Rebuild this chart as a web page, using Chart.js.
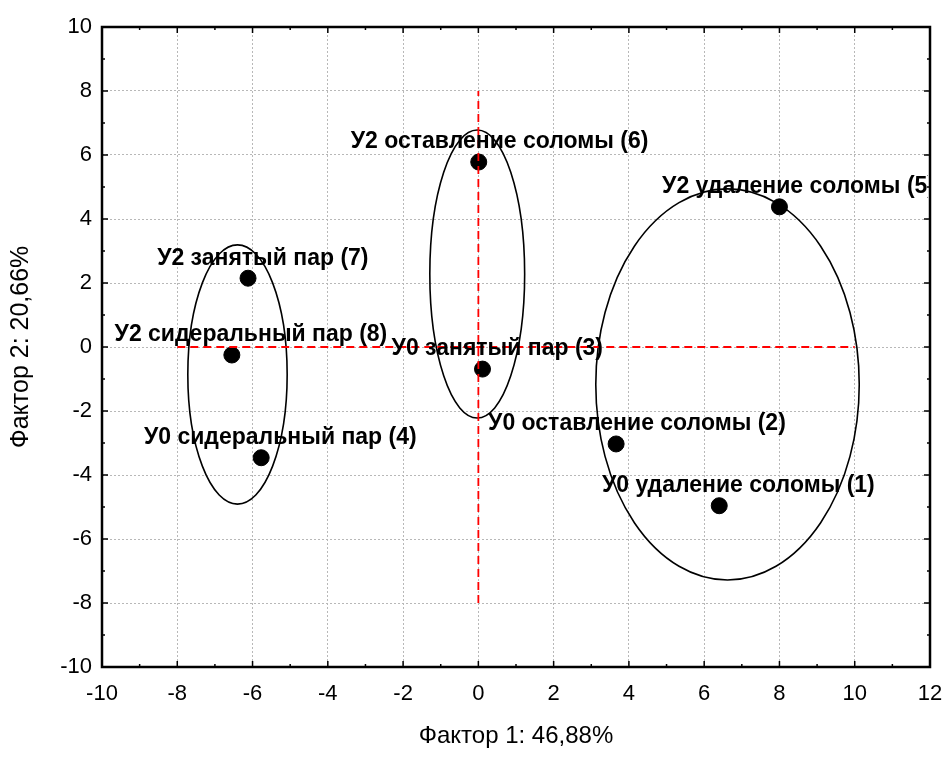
<!DOCTYPE html>
<html>
<head>
<meta charset="utf-8">
<script src="https://cdn.jsdelivr.net/npm/chart.js@4/dist/chart.umd.min.js"></script>
<style>
  html, body { margin: 0; padding: 0; background: #fff; }
  #wrap { width: 943px; height: 758px; }
</style>
</head>
<body>
<div id="wrap"><canvas id="factors"></canvas></div>
<script>
var pointNames = ['У0 удаление соломы (1)', 'У0 оставление соломы (2)', 'У0 занятый пар (3)', 'У0 сидеральный пар (4)',
    'У2 удаление соломы (5)', 'У2 оставление соломы (6)', 'У2 занятый пар (7)', 'У2 сидеральный пар (8)'];
var factor1 = [6.40, 3.66, 0.11, -5.77, 8.00, 0.01, -6.12, -6.55];
var factor2 = [-4.96, -3.03, -0.69, -3.46, 4.38, 5.78, 2.15, -0.25];

// groups: center x, center y, half-width, half-height (in factor units)
var groupCx = [-6.40, -0.03, 6.62];
var groupCy = [-0.86, 2.28, -1.17];
var groupRx = [1.32, 1.26, 3.50];
var groupRy = [4.05, 4.50, 6.11];

// red cross lines
var crossX = [-8, 10];
var crossY = [-8, 8];

var xTitle = 'Фактор 1: 46,88%';
var yTitle = 'Фактор 2: 20,66%';

var pts = factor1.map(function (v, i) { return { x: v, y: factor2[i] }; });

var frameAndExtras = {
    id: 'frameAndExtras',
    beforeDatasetsDraw: function (chart) {
        var c = chart.ctx, xs = chart.scales.x, ys = chart.scales.y;
        c.save();
        c.strokeStyle = '#000';
        c.lineWidth = 1.6;
        for (var i = 0; i < groupCx.length; i++) {
            var px = xs.getPixelForValue(groupCx[i]);
            var py = ys.getPixelForValue(groupCy[i]);
            var rx = Math.abs(xs.getPixelForValue(groupCx[i] + groupRx[i]) - px);
            var ry = Math.abs(ys.getPixelForValue(groupCy[i] + groupRy[i]) - py);
            c.beginPath();
            c.ellipse(px, py, rx, ry, 0, 0, Math.PI * 2);
            c.stroke();
        }
        c.restore();
    },
    afterDraw: function (chart) {
        var c = chart.ctx, a = chart.chartArea, xs = chart.scales.x, ys = chart.scales.y;
        c.save();
        // labels, cut at the right frame like the original
        c.beginPath();
        c.rect(0, 0, a.right - 2, chart.height);
        c.clip();
        c.font = 'bold 23px "Liberation Sans", Arial, sans-serif';
        c.fillStyle = '#000';
        c.textAlign = 'center';
        c.textBaseline = 'middle';
        for (var i = 0; i < pts.length; i++) {
            var w = c.measureText(pointNames[i]).width;
            c.fillText(pointNames[i], xs.getPixelForValue(pts[i].x) + w * 0.07, ys.getPixelForValue(pts[i].y) - 20);
        }
        c.restore();
        c.save();
        // frame
        c.strokeStyle = '#000';
        c.lineWidth = 2.5;
        c.strokeRect(a.left, a.top, a.right - a.left, a.bottom - a.top);
        // inward ticks
        c.lineWidth = 1.5;
        for (var v = -10; v <= 12; v++) {
            var len = (v % 2 === 0) ? 6 : 3;
            var p = xs.getPixelForValue(v);
            c.beginPath();
            c.moveTo(p, a.bottom); c.lineTo(p, a.bottom - len);
            c.moveTo(p, a.top); c.lineTo(p, a.top + len);
            c.stroke();
        }
        for (var k = -10; k <= 10; k++) {
            var len2 = (k % 2 === 0) ? 6 : 3;
            var q = ys.getPixelForValue(k);
            c.beginPath();
            c.moveTo(a.left, q); c.lineTo(a.left + len2, q);
            c.moveTo(a.right, q); c.lineTo(a.right - len2, q);
            c.stroke();
        }
        c.restore();
    }
};

var ctx = document.getElementById('factors').getContext('2d');

var factorChart = new Chart(ctx, {
    type: 'scatter',
    data: {
        datasets: [
            {
                data: [{ x: crossX[0], y: 0 }, { x: crossX[1], y: 0 }],
                showLine: true,
                borderColor: '#ff0000',
                borderWidth: 1.8,
                borderDash: [8, 5],
                pointRadius: 0
            },
            {
                data: [{ x: 0, y: crossY[0] }, { x: 0, y: crossY[1] }],
                showLine: true,
                borderColor: '#ff0000',
                borderWidth: 1.8,
                borderDash: [8, 5],
                pointRadius: 0
            },
            {
                data: pts,
                backgroundColor: '#000',
                borderColor: '#000',
                pointRadius: 8,
                pointHoverRadius: 8
            }
        ]
    },
    options: {
        responsive: true,
        maintainAspectRatio: false,
        animation: false,
        layout: { padding: { top: 27, right: 0, left: 0, bottom: 0 } },
        plugins: { legend: { display: false }, tooltip: { enabled: false } },
        scales: {
            x: {
                type: 'linear',
                min: -10,
                max: 12,
                afterFit: function (s) { s.height = 91; s.paddingRight = 13; s.paddingLeft = 0; },
                ticks: { stepSize: 2, color: '#000', padding: 14, font: { size: 22, family: '"Liberation Sans", Arial' } },
                grid: { color: '#b8b8b8', lineWidth: 1, drawTicks: false },
                border: { display: false, dash: [2, 2] },
                title: { display: true, text: xTitle, color: '#000', padding: { top: 4, bottom: 7 }, font: { size: 24, family: '"Liberation Sans", Arial' } }
            },
            y: {
                type: 'linear',
                min: -10,
                max: 10,
                afterFit: function (s) { s.width = 102; },
                ticks: { stepSize: 2, color: '#000', padding: 10, font: { size: 22, family: '"Liberation Sans", Arial' } },
                grid: { color: '#b8b8b8', lineWidth: 1, drawTicks: false },
                border: { display: false, dash: [2, 2] },
                title: { display: true, text: yTitle, color: '#000', padding: { top: 6, bottom: 12 }, font: { size: 25, family: '"Liberation Sans", Arial' } }
            }
        }
    },
    plugins: [frameAndExtras]
});
</script>
</body>
</html>
